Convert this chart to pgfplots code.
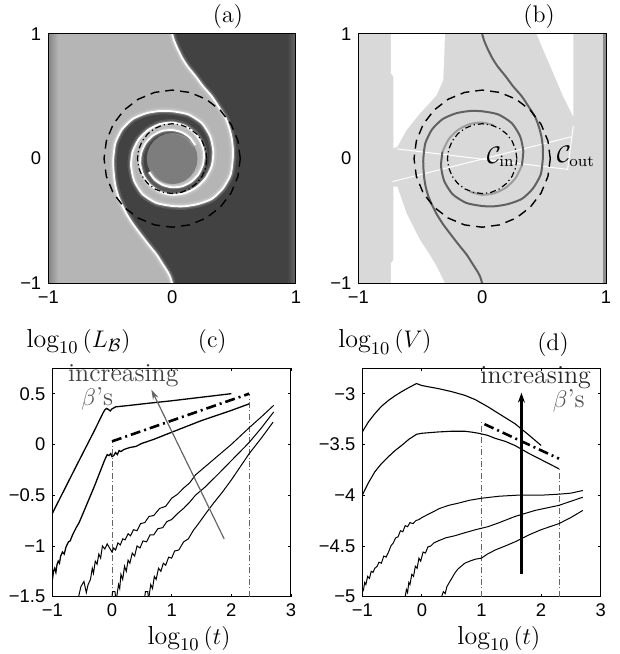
\documentclass[border=0pt]{standalone}
\usepackage{fontspec}
\setsansfont{Liberation Sans}
\usepackage{pgfplots}
\pgfplotsset{compat=1.18}
\usepackage{pgfplotstable}
\usetikzlibrary{arrows.meta}

\definecolor{lightg}{gray}{0.71}
\definecolor{darkg}{gray}{0.26}
\definecolor{midg}{gray}{0.49}
\definecolor{edgeL}{gray}{0.52}
\definecolor{edgeR}{gray}{0.42}
\definecolor{bgb}{gray}{0.85}
\definecolor{armdark}{gray}{0.38}
\definecolor{armlight}{gray}{0.62}

% interface: left arm (from bottom, inwards), then right arm (inner end -> top)
\pgfplotstableread{
x y
-1 -1
nan nan
0 -1
-0.015 -0.95
-0.035 -0.91
-0.08 -0.84
-0.125 -0.77
-0.19 -0.69
-0.26 -0.60
-0.32 -0.52
-0.37 -0.44
-0.41 -0.36
-0.435 -0.30
-0.455 -0.23
-0.467 -0.16
-0.474 -0.08
-0.475 0
-0.459 0.123
-0.405 0.234
-0.318 0.318
-0.21 0.364
-0.102 0.382
0 0.38
0.129 0.355
0.239 0.285
0.307 0.178
0.332 0.059
0.320 -0.056
0.270 -0.156
0.194 -0.231
0.101 -0.277
0 -0.29
-0.097 -0.266
-0.177 -0.211
-0.232 -0.134
-0.257 -0.045
-0.250 0.044
-0.214 0.124
-0.155 0.185
-0.081 0.222
0 0.23
0.077 0.211
0.141 0.169
0.186 0.108
nan nan
-0.186 -0.108
-0.141 -0.169
-0.077 -0.211
0 -0.23
0.081 -0.222
0.155 -0.185
0.214 -0.124
0.250 -0.044
0.257 0.045
0.232 0.134
0.177 0.211
0.097 0.266
0 0.29
-0.101 0.277
-0.194 0.231
-0.270 0.156
-0.320 0.056
-0.332 -0.059
-0.307 -0.178
-0.239 -0.285
-0.129 -0.355
0 -0.38
0.102 -0.382
0.21 -0.364
0.322 -0.322
0.411 -0.238
0.473 -0.127
0.49 0
0.49 0.09
0.48 0.17
0.46 0.25
0.43 0.33
0.38 0.41
0.32 0.50
0.25 0.58
0.19 0.66
0.125 0.74
0.08 0.81
0.04 0.89
0.015 0.95
0 1
nan nan
-1 1
}\iface

% circles (polar: angle, radius)
\pgfplotstableread{
a ro ri rc
0 0.55 0.28 0.205
15 0.55 0.28 0.205
30 0.55 0.28 0.205
45 0.55 0.28 0.205
60 0.55 0.28 0.205
75 0.55 0.28 0.205
90 0.55 0.28 0.205
105 0.55 0.28 0.205
120 0.55 0.28 0.205
135 0.55 0.28 0.205
150 0.55 0.28 0.205
165 0.55 0.28 0.205
180 0.55 0.28 0.205
195 0.55 0.28 0.205
210 0.55 0.28 0.205
225 0.55 0.28 0.205
240 0.55 0.28 0.205
255 0.55 0.28 0.205
270 0.55 0.28 0.205
285 0.55 0.28 0.205
300 0.55 0.28 0.205
315 0.55 0.28 0.205
330 0.55 0.28 0.205
345 0.55 0.28 0.205
360 0.55 0.28 0.205
}\circtab

\pgfplotsset{
  mat/.style={
    scale only axis, clip mode=individual, anchor=south west,
    tick align=inside, major tick length=1.5pt,
    axis line style={line width=0.5pt},
    tick style={line width=0.4pt, black},
    ticklabel style={font=\sffamily\fontsize{9.2}{11}\selectfont},
  },
}
\tikzset{
  lbl/.style={font=\fontsize{12}{14}\selectfont},
  big/.style={font=\fontsize{13}{15}\selectfont},
  cdash/.style={black, line width=0.7pt, dash pattern=on 4.5pt off 3pt},
  cdashdot/.style={black, line width=0.6pt, dash pattern=on 3pt off 1.5pt on 0.6pt off 1.5pt},
  thickdd/.style={black, line width=1.3pt, dash pattern=on 5pt off 2pt on 1pt off 2pt},
  vdd/.style={black!60, line width=0.45pt, dash pattern=on 3pt off 1.2pt on 0.5pt off 1.2pt},
}

\begin{document}
\begin{tikzpicture}
\useasboundingbox (0,0) rectangle (310pt,327pt);

% ---------- (a)
\begin{axis}[mat, at={(24.15pt,185.35pt)}, width=123.85pt, height=124.65pt,
  xmin=-1, xmax=1, ymin=-1, ymax=1, axis on top, tick style={draw=none},
  xtick={-1,0,1}, ytick={-1,0,1}, xticklabels={−1,0,1}, yticklabels={−1,0,1}]
\addplot[fill=darkg, draw=none] coordinates {(-1,-1) (1,-1) (1,1) (-1,1)};
\addplot[fill=lightg, draw=none] table {\iface};
\addplot[draw=none, left color=edgeL, right color=lightg] coordinates {(-1,-1) (-0.92,-1) (-0.92,1) (-1,1)};
\addplot[draw=none, left color=darkg, right color=edgeR] coordinates {(0.93,-1) (1,-1) (1,1) (0.93,1)};
\addplot[fill=midg, draw=none, data cs=polar] table[x=a, y=rc] {\circtab};
\addplot[white, opacity=0.12, line width=3.5pt, smooth, tension=0.4, unbounded coords=jump] table {\iface};
\addplot[white, opacity=0.2, line width=2pt, smooth, tension=0.4, unbounded coords=jump] table {\iface};
\addplot[white, line width=0.9pt, smooth, tension=0.4, unbounded coords=jump] table {\iface};
\addplot[cdash, data cs=polar] table[x=a, y=ro] {\circtab};
\addplot[cdashdot, data cs=polar] table[x=a, y=ri] {\circtab};
\node[lbl] at (rel axis cs:0.725,1.069) {(a)};
\end{axis}

% ---------- (b)
\begin{axis}[mat, at={(179.15pt,185.35pt)}, width=123.85pt, height=124.65pt,
  xmin=-1, xmax=1, ymin=-1, ymax=1, axis on top, tick style={draw=none},
  xtick={-1,0,1}, ytick={-1,0,1}, xticklabels={−1,0,1}, yticklabels={−1,0,1}]
\addplot[fill=bgb, draw=none] coordinates {(-1,-1) (1,-1) (1,1) (-1,1)};
\addplot[fill=black!45, draw=none] coordinates {(0.975,-1) (1,-1) (1,1) (0.975,1)};
\addplot[fill=white, draw=none] coordinates {(-0.736,1) (-0.300,1) (-0.305,0.85) (-0.314,0.631) (-0.367,0.511) (-0.43,0.44) (-0.502,0.364) (-0.610,0.230) (-0.685,0.096) (-0.717,0.083) (-0.717,0.658) (-0.736,0.684)};
\addplot[fill=white, draw=none] coordinates {(-0.736,-1) (-0.300,-1) (-0.367,-0.866) (-0.43,-0.76) (-0.502,-0.652) (-0.610,-0.439) (-0.685,-0.225) (-0.717,-0.225) (-0.717,-0.813) (-0.736,-0.840)};
\addplot[fill=white, draw=none] coordinates {(0.440,1) (0.736,1) (0.736,0.337) (0.655,0.497) (0.575,0.684) (0.494,0.872)};
\addplot[white, line width=0.5pt] coordinates {(-0.685,0.078) (0.690,-0.086) (0.736,0.262)};
\addplot[white, line width=0.5pt] coordinates {(-0.723,-0.184) (0.723,0.176)};
\addplot[armlight, line width=1pt, smooth, tension=0.4] table[skip coords between index={0}{27}, skip coords between index={33}{88}] {\iface};
\addplot[armlight, line width=1pt, smooth, tension=0.4] table[skip coords between index={0}{56}, skip coords between index={62}{88}] {\iface};
\addplot[armdark, line width=1pt, smooth, tension=0.4] table[skip coords between index={0}{2}, skip coords between index={28}{88}] {\iface};
\addplot[armdark, line width=1pt, smooth, tension=0.4] table[skip coords between index={0}{61}, skip coords between index={86}{88}] {\iface};
\addplot[cdash, data cs=polar] table[x=a, y=ro] {\circtab};
\addplot[cdashdot, data cs=polar] table[x=a, y=ri] {\circtab};
\node[lbl] at (axis cs:0.15,0.016) {$\mathcal{C}_{\rm in}$};
\node[lbl] at (axis cs:0.757,0.016) {$\mathcal{C}_{\rm out}$};
\node[lbl] at (rel axis cs:0.73,1.069) {(b)};
\end{axis}

% ---------- (c)
\begin{axis}[mat, at={(26.15pt,28.65pt)}, width=119.35pt, height=114.2pt,
  xmin=-1, xmax=3, ymin=-1.5, ymax=0.75,
  xtick={-1,0,1,2,3}, xticklabels={−1,0,1,2,3},
  ytick={-1.5,-1,-0.5,0,0.5}, yticklabels={−1.5,−1,−0.5,0,0.5}]
\addplot[vdd] coordinates {(0,-1.5) (0,0.03)};
\addplot[vdd] coordinates {(2.3,-1.5) (2.3,0.5)};
\addplot[black, line width=0.65pt] coordinates {
(-1,-0.68) (-0.6,-0.215) (-0.3,0.13) (-0.15,0.31) (-0.12,0.34) (-0.09,0.355) (-0.06,0.345)
(-0.03,0.33) (0.0,0.35) (0.03,0.36) (0.06,0.37) (0.3,0.385) (0.6,0.405) (1.0,0.43) (1.5,0.465) (2.0,0.5)};
\addplot[black, line width=0.65pt] coordinates {
(-1,-1.34) (-0.98,-1.25) (-0.96,-1.22) (-0.94,-1.26) (-0.92,-1.18) (-0.9,-1.15) (-0.88,-1.17)
(-0.86,-1.10) (-0.83,-1.06) (-0.8,-1.08) (-0.77,-1.01) (-0.73,-0.96) (-0.7,-0.95) (-0.66,-0.89)
(-0.6,-0.82) (-0.55,-0.77) (-0.5,-0.70) (-0.4,-0.56) (-0.3,-0.42) (-0.2,-0.27) (-0.12,-0.15)
(-0.08,-0.10) (-0.05,-0.11) (-0.02,-0.09) (0.0,-0.12) (0.03,-0.11) (0.06,-0.08) (0.09,-0.10)
(0.12,-0.06) (0.15,-0.07) (0.2,-0.05) (0.3,-0.03) (0.4,-0.02) (0.5,0.01) (0.7,0.05) (1.0,0.12)
(1.5,0.235) (2.0,0.335) (2.3,0.40)};
\addplot[black, line width=0.5pt] coordinates {
(-0.56,-1.5) (-0.52,-1.40) (-0.47,-1.35) (-0.43,-1.46) (-0.40,-1.38) (-0.36,-1.33) (-0.33,-1.22)
(-0.31,-1.27) (-0.28,-1.15) (-0.25,-1.18) (-0.22,-1.08) (-0.19,-1.12) (-0.16,-1.00) (-0.12,-1.03)
(-0.08,-0.98) (-0.04,-1.02) (0.0,-1.06) (0.03,-1.02) (0.06,-1.04) (0.1,-0.97) (0.14,-0.99)
(0.18,-0.93) (0.22,-0.94) (0.27,-0.88) (0.31,-0.90) (0.36,-0.84) (0.42,-0.85) (0.48,-0.78)
(0.55,-0.77) (0.62,-0.71) (0.7,-0.70) (0.8,-0.63) (0.9,-0.61) (1.0,-0.53) (1.1,-0.49) (1.2,-0.43)
(1.3,-0.38) (1.4,-0.30) (1.5,-0.25) (1.7,-0.15) (2.0,0.0) (2.3,0.165) (2.5,0.27) (2.71,0.385)};
\addplot[black, line width=0.5pt] coordinates {(0.0,-1.5) (0.01,-1.45) (0.05,-1.45) (0.06,-1.5)};
\addplot[black, line width=0.5pt] coordinates {
(0.08,-1.5) (0.11,-1.38) (0.13,-1.42) (0.15,-1.28) (0.18,-1.33) (0.21,-1.2) (0.24,-1.25)
(0.27,-1.14) (0.3,-1.17) (0.34,-1.07) (0.38,-1.1) (0.42,-1.0) (0.47,-1.02) (0.52,-0.95)
(0.58,-0.96) (0.64,-0.89) (0.7,-0.89) (0.77,-0.83) (0.85,-0.82) (0.92,-0.76) (1.0,-0.74)
(1.1,-0.68) (1.2,-0.63) (1.3,-0.57) (1.4,-0.50) (1.56,-0.42) (1.8,-0.28) (2.0,-0.16)
(2.3,0.02) (2.5,0.16) (2.71,0.32)};
\addplot[black, line width=0.5pt] coordinates {(0.55,-1.5) (0.56,-1.45) (0.6,-1.45) (0.61,-1.5)};
\addplot[black, line width=0.5pt] coordinates {
(0.62,-1.5) (0.65,-1.38) (0.68,-1.42) (0.71,-1.3) (0.74,-1.33) (0.78,-1.22) (0.82,-1.25)
(0.86,-1.17) (0.9,-1.19) (0.95,-1.11) (1.0,-1.12) (1.05,-1.05) (1.12,-1.04) (1.2,-0.96)
(1.28,-0.93) (1.36,-0.85) (1.45,-0.78) (1.56,-0.69) (1.7,-0.58) (1.85,-0.47) (2.0,-0.35)
(2.15,-0.22) (2.3,-0.09) (2.5,0.06) (2.7,0.22)};
\addplot[thickdd] coordinates {(0,0.03) (2.3,0.5)};
\addplot[black!60, line width=0.6pt, -{Stealth[length=5pt,width=3pt]}] coordinates {(1.88,-0.93) (0.66,0.54)};
\node[big, text=black!75, anchor=base] at (axis cs:0.19,0.624) {increasing};
\node[big, text=black!68, anchor=base west] at (axis cs:-0.63,0.385) {$\beta$'s};
\node[lbl] at (rel axis cs:0.67,1.116) {(c)};
\node[big] at (rel axis cs:0.11,1.118) {$\log_{10}\,(L_{\mathcal{B}})$};
\node[big, anchor=base] at (rel axis cs:0.573,-0.21) {$\log_{10}\,(t)$};
\end{axis}

% ---------- (d)
\begin{axis}[mat, at={(181.15pt,28.65pt)}, width=119.2pt, height=114.2pt,
  xmin=-1, xmax=3, ymin=-5, ymax=-2.75,
  xtick={-1,0,1,2,3}, xticklabels={−1,0,1,2,3},
  ytick={-5,-4.5,-4,-3.5,-3}, yticklabels={−5,−4.5,−4,−3.5,−3}]
\addplot[vdd] coordinates {(1,-5) (1,-3.28)};
\addplot[vdd] coordinates {(2.3,-5) (2.3,-3.74)};
\addplot[black, line width=0.55pt] coordinates {
(-1,-3.377) (-0.9,-3.28) (-0.79,-3.197) (-0.68,-3.125) (-0.56,-3.066) (-0.45,-3.02) (-0.34,-2.98)
(-0.22,-2.94) (-0.09,-2.90) (0.0,-2.92) (0.275,-2.95) (0.5,-2.98) (0.72,-3.016) (0.9,-3.06)
(1.11,-3.13) (1.3,-3.2) (1.56,-3.295) (1.8,-3.41) (2.0,-3.51)};
\addplot[black, line width=0.55pt] coordinates {
(-1,-4.0) (-0.9,-3.88) (-0.79,-3.77) (-0.68,-3.69) (-0.56,-3.62) (-0.45,-3.56) (-0.34,-3.51)
(-0.22,-3.45) (-0.09,-3.40) (0.0,-3.39) (0.275,-3.377) (0.5,-3.37) (0.72,-3.37) (0.85,-3.38)
(0.95,-3.39) (1.1,-3.41) (1.23,-3.44) (1.4,-3.47) (1.56,-3.51) (1.8,-3.59) (2.0,-3.65) (2.3,-3.74)};
\addplot[black, line width=0.5pt] coordinates {
(-1,-4.96) (-0.98,-4.93) (-0.96,-4.86) (-0.94,-4.88) (-0.91,-4.80) (-0.88,-4.82) (-0.85,-4.75)
(-0.82,-4.76) (-0.79,-4.72) (-0.75,-4.70) (-0.72,-4.66) (-0.68,-4.67) (-0.64,-4.60) (-0.6,-4.61)
(-0.56,-4.56) (-0.52,-4.50) (-0.48,-4.47) (-0.44,-4.42) (-0.4,-4.41) (-0.36,-4.35) (-0.32,-4.36)
(-0.28,-4.30) (-0.24,-4.31) (-0.2,-4.27) (-0.15,-4.28) (-0.1,-4.25) (-0.05,-4.24) (0.0,-4.22)
(0.1,-4.19) (0.2,-4.16) (0.3,-4.13) (0.45,-4.10) (0.6,-4.08) (0.8,-4.05) (1.0,-4.03) (1.3,-4.01)
(1.6,-4.00) (2.0,-4.0) (2.3,-3.99) (2.5,-3.98) (2.7,-3.954)};
\addplot[black, line width=0.5pt] coordinates {
(-0.28,-5.0) (-0.26,-4.93) (-0.24,-4.96) (-0.22,-4.86) (-0.2,-4.88) (-0.17,-4.78) (-0.14,-4.80)
(-0.11,-4.70) (-0.08,-4.72) (-0.05,-4.62) (-0.02,-4.65) (0.02,-4.56) (0.06,-4.57) (0.1,-4.51)
(0.15,-4.50) (0.2,-4.47) (0.275,-4.45) (0.4,-4.42) (0.55,-4.40) (0.72,-4.37) (0.9,-4.34)
(1.11,-4.31) (1.3,-4.27) (1.56,-4.21) (1.9,-4.15) (2.3,-4.10) (2.5,-4.06) (2.7,-4.02)};
\addplot[black, line width=0.5pt] coordinates {
(0.33,-5.0) (0.36,-4.95) (0.39,-4.97) (0.42,-4.9) (0.46,-4.86) (0.5,-4.82) (0.55,-4.77)
(0.6,-4.73) (0.66,-4.70) (0.72,-4.67) (0.8,-4.65) (0.9,-4.63) (1.0,-4.62) (1.1,-4.58)
(1.23,-4.54) (1.4,-4.50) (1.56,-4.46) (1.8,-4.39) (2.0,-4.34) (2.3,-4.28) (2.5,-4.22) (2.7,-4.15)};
\addplot[thickdd] coordinates {(1.05,-3.3) (2.3,-3.64)};
\addplot[black, line width=1.1pt, -{Stealth[length=5pt,width=3.5pt]}] coordinates {(1.67,-4.78) (1.67,-2.99)};
\node[big, text=black!85, anchor=base] at (axis cs:1.91,-2.90) {increasing};
\node[big, text=black!68, anchor=base west] at (axis cs:2.08,-3.135) {$\beta$'s};
\node[lbl] at (rel axis cs:0.80,1.105) {(d)};
\node[big] at (rel axis cs:0.095,1.115) {$\log_{10}\,(V)$};
\node[big, anchor=base] at (rel axis cs:0.573,-0.21) {$\log_{10}\,(t)$};
\end{axis}
\end{tikzpicture}
\end{document}
